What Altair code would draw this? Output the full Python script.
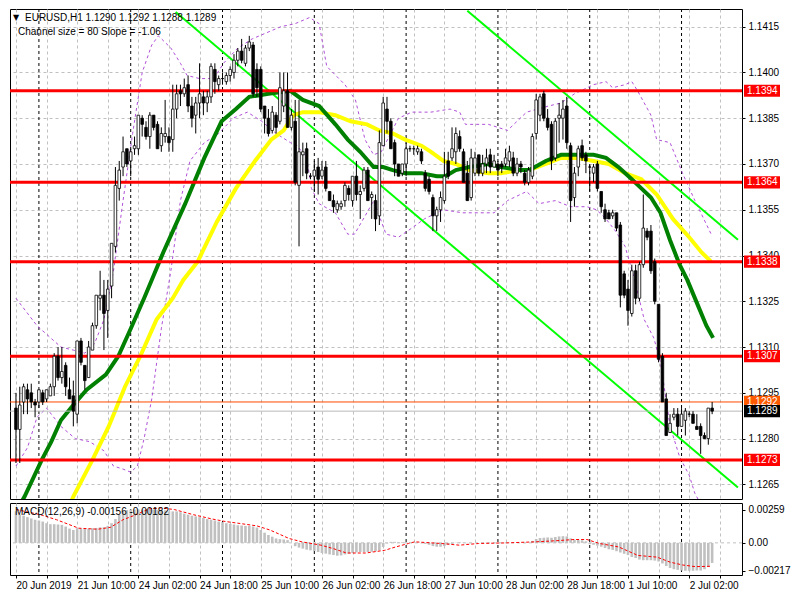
import altair as alt
import pandas as pd

# ---------------- data ----------------
opens = [1.1290,1.1283,1.1292,1.1296,1.1295,1.1292,1.1292,1.1295,1.1293,1.1294,
         1.1297,1.1307,1.1300,1.1304,1.1296,1.1294,1.1288,1.1312,1.1304,1.1300,
         1.1309,1.1317,1.1326,1.1327,1.1322,1.1330,1.1343,1.1362,1.1369,1.1375,
         1.1371,1.1375,1.1375,1.1385,1.1382,1.1379,1.1386,1.1383,1.1376,1.1379,
         1.1379,1.1378,1.1388,1.1394,1.1393,1.1396,1.1389,1.1386,1.1390,1.1392,
         1.1390,1.1392,1.1401,1.1396,1.1398,1.1397,1.1399,1.1400,1.1404,1.1407,
         1.1403,1.1408,1.1409,1.1401,1.1401,1.1389,1.1385,1.1381,1.1386,1.1384,
         1.1389,1.1394,1.1382,1.1384,1.1363,1.1373,1.1375,1.1366,1.1366,1.1369,
         1.1366,1.1369,1.1361,1.1358,1.1355,1.1356,1.1358,1.1362,1.1358,1.1366,
         1.1360,1.1362,1.1368,1.1359,1.1358,1.1353,1.1376,1.1388,1.1384,1.1377,
         1.1370,1.1367,1.1370,1.1375,1.1375,1.1374,1.1374,1.1367,1.1365,1.1359,
         1.1353,1.1355,1.1358,1.1371,1.1372,1.1374,1.1379,1.1374,1.1367,1.1359,
         1.1367,1.1373,1.1367,1.1370,1.1373,1.1369,1.1370,1.1370,1.1370,1.1371,
         1.1372,1.1367,1.1370,1.1367,1.1364,1.1366,1.1380,1.1386,1.1393,1.1385,
         1.1383,1.1372,1.1385,1.1385,1.1389,1.1376,1.1359,1.1369,1.1376,1.1373,
         1.1369,1.1367,1.1370,1.1361,1.1355,1.1354,1.1353,1.1354,1.1350,1.1334,
         1.1329,1.1321,1.1335,1.1326,1.1337,1.1348,1.1348,1.1338,1.1324,1.1307,
         1.1293,1.1282,1.1287,1.1288,1.1284,1.1286,1.1288,1.1288,1.1284,1.1284,
         1.1281,1.1280,1.1290]
highs = [1.1295,1.1297,1.1298,1.1298,1.1298,1.1293,1.1296,1.1296,1.1296,1.1298,
         1.1308,1.1310,1.1310,1.1305,1.1300,1.1299,1.1312,1.1313,1.1304,1.1312,
         1.1318,1.1327,1.1335,1.1332,1.1332,1.1344,1.1369,1.1371,1.1379,1.1375,
         1.1375,1.1379,1.1386,1.1386,1.1384,1.1387,1.1386,1.1384,1.1382,1.1391,
         1.1382,1.1396,1.1396,1.1396,1.1398,1.1399,1.1392,1.1392,1.1403,1.1394,
         1.1394,1.1403,1.1403,1.1399,1.1400,1.1400,1.1402,1.1406,1.1408,1.1411,
         1.1409,1.1412,1.1410,1.1403,1.1402,1.1389,1.1388,1.1389,1.1387,1.1400,
         1.1400,1.1400,1.1388,1.1391,1.1391,1.1377,1.1377,1.1367,1.1371,1.1372,
         1.1371,1.1371,1.1361,1.1360,1.1358,1.1358,1.1364,1.1363,1.1366,1.1371,
         1.1363,1.1369,1.1369,1.1361,1.1360,1.1381,1.1392,1.1392,1.1385,1.1378,
         1.1370,1.1370,1.1377,1.1376,1.1376,1.1376,1.1375,1.1368,1.1366,1.1360,
         1.1356,1.1361,1.1374,1.1374,1.1382,1.1382,1.1381,1.1375,1.1371,1.1375,
         1.1374,1.1373,1.1373,1.1375,1.1375,1.1373,1.1371,1.1371,1.1375,1.1376,
         1.1374,1.1372,1.1371,1.1368,1.1369,1.1380,1.1393,1.1393,1.1394,1.1388,
         1.1384,1.1385,1.1390,1.1391,1.1392,1.1377,1.1369,1.1376,1.1378,1.1374,
         1.1370,1.1370,1.1371,1.1361,1.1357,1.1355,1.1355,1.1354,1.1351,1.1335,
         1.1332,1.1337,1.1337,1.1338,1.1360,1.1349,1.1350,1.1339,1.1324,1.1308,
         1.1295,1.1288,1.1290,1.1290,1.1290,1.1290,1.1289,1.1289,1.1288,1.1285,
         1.1282,1.1290,1.1292]
lows = [1.1272,1.1272,1.1288,1.1288,1.1290,1.1287,1.1290,1.1291,1.1292,1.1294,
        1.1294,1.1299,1.1298,1.1294,1.1293,1.1284,1.1285,1.1304,1.1296,1.1300,
        1.1309,1.1316,1.1322,1.1309,1.1313,1.1326,1.1341,1.1358,1.1366,1.1369,
        1.1366,1.1373,1.1373,1.1379,1.1378,1.1375,1.1381,1.1375,1.1374,1.1377,
        1.1374,1.1374,1.1385,1.1389,1.1392,1.1387,1.1382,1.1380,1.1385,1.1386,
        1.1387,1.1390,1.1393,1.1394,1.1396,1.1396,1.1397,1.1398,1.1402,1.1403,
        1.1402,1.1407,1.1392,1.1392,1.1387,1.1380,1.1379,1.1380,1.1380,1.1383,
        1.1387,1.1382,1.1381,1.1363,1.1343,1.1366,1.1365,1.1365,1.1361,1.1360,
        1.1365,1.1361,1.1358,1.1354,1.1354,1.1355,1.1356,1.1358,1.1356,1.1358,
        1.1352,1.1361,1.1358,1.1352,1.1348,1.1350,1.1376,1.1380,1.1375,1.1366,
        1.1366,1.1366,1.1366,1.1374,1.1373,1.1373,1.1370,1.1361,1.1360,1.1348,
        1.1348,1.1351,1.1357,1.1365,1.1371,1.1370,1.1374,1.1364,1.1358,1.1358,
        1.1366,1.1366,1.1366,1.1367,1.1367,1.1369,1.1366,1.1367,1.1369,1.1369,
        1.1366,1.1366,1.1367,1.1363,1.1363,1.1365,1.1378,1.1384,1.1384,1.1381,
        1.1368,1.1371,1.1377,1.1378,1.1375,1.1351,1.1356,1.1366,1.1371,1.1367,
        1.1361,1.1364,1.1361,1.1354,1.1351,1.1352,1.1352,1.1348,1.1323,1.1326,
        1.1317,1.1320,1.1324,1.1325,1.1336,1.1345,1.1334,1.1324,1.1305,1.1292,
        1.1281,1.1282,1.1286,1.1281,1.1284,1.1281,1.1287,1.1285,1.1283,1.1275,
        1.1280,1.1278,1.1288]
closes = [1.1283,1.1291,1.1297,1.1293,1.1292,1.1291,1.1296,1.1292,1.1296,1.1297,
          1.1307,1.1300,1.1302,1.1297,1.1293,1.1289,1.1312,1.1305,1.1299,1.1310,
          1.1317,1.1327,1.1327,1.1321,1.1329,1.1344,1.1363,1.1368,1.1374,1.1370,
          1.1374,1.1376,1.1386,1.1383,1.1379,1.1386,1.1382,1.1375,1.1380,1.1380,
          1.1377,1.1388,1.1393,1.1393,1.1395,1.1389,1.1385,1.1390,1.1393,1.1390,
          1.1392,1.1402,1.1397,1.1398,1.1398,1.1399,1.1401,1.1404,1.1407,1.1404,
          1.1408,1.1410,1.1393,1.1395,1.1388,1.1385,1.1380,1.1387,1.1382,1.1395,
          1.1394,1.1382,1.1386,1.1364,1.1374,1.1374,1.1367,1.1366,1.1368,1.1365,
          1.1368,1.1362,1.1358,1.1356,1.1357,1.1357,1.1363,1.1360,1.1366,1.1360,
          1.1361,1.1368,1.1358,1.1360,1.1352,1.1377,1.1390,1.1384,1.1375,1.1370,
          1.1366,1.1370,1.1375,1.1375,1.1375,1.1375,1.1371,1.1362,1.1361,1.1353,
          1.1355,1.1359,1.1366,1.1366,1.1375,1.1380,1.1375,1.1364,1.1358,1.1372,
          1.1372,1.1367,1.1370,1.1372,1.1369,1.1371,1.1368,1.1369,1.1372,1.1374,
          1.1367,1.1370,1.1369,1.1364,1.1368,1.1379,1.1391,1.1392,1.1385,1.1382,
          1.1371,1.1384,1.1386,1.1388,1.1377,1.1358,1.1367,1.1375,1.1372,1.1371,
          1.1369,1.1369,1.1362,1.1356,1.1352,1.1352,1.1354,1.1349,1.1327,1.1327,
          1.1322,1.1335,1.1326,1.1337,1.1349,1.1346,1.1335,1.1325,1.1306,1.1292,
          1.1281,1.1285,1.1288,1.1284,1.1288,1.1289,1.1288,1.1285,1.1283,1.1281,
          1.1280,1.1290,1.1289]

# MACD histogram (units of 1e-5)
macd_main = [245,219,211,200,190,180,174,166,153,145,
             145,143,140,127,111,100,114,111,108,111,
             114,116,121,121,132,153,185,219,245,256,
             259,259,259,259,259,259,259,257,255,253,
             245,245,245,238,227,219,211,206,200,193,
             185,180,174,166,161,153,148,143,137,135,
             132,132,127,119,100,79,61,48,34,29,
             26,21,0,-26,-37,-45,-53,-58,-63,-71,
             -79,-84,-90,-95,-100,-98,-90,-84,-79,-74,
             -71,-71,-71,-69,-66,-58,-32,-5,8,8,
             5,5,5,3,2,0,-3,-8,-15,-25,
             -30,-30,-25,-15,-8,2,5,2,-3,-2,
             0,0,2,2,0,0,-2,-2,0,0,
             0,0,0,-2,0,15,30,38,40,42,
             40,45,50,52,50,35,25,22,20,12,
             -10,-15,-22,-30,-40,-50,-55,-65,-75,-85,
             -95,-110,-118,-130,-135,-135,-135,-138,-145,-160,
             -180,-195,-205,-210,-215,-217,-217,-217,-215,-215,
             -205,-185,-156]
signal_bar = [0.1,6.4,10.6,16.4,21.4,24.75,28,31.4,34.75,38,41.4,46.4,51.4,54.75,58,63,
              66.4,71.4,74.75,79.75,83,86.4,91.4,96.4,99.25,102.6,104.25,111.25,115.9,
              120.9,128.4,135.9,140.9,145.9,149.25,152.6,157.6,162.6,167.6,171,174.25,
              177.6,181.75]
signal_val = [259,219,180,114,106,121,180,219,264,272,259,219,185,166,153,132,
              100,34,8,-18,-45,-79,-79,-58,-32,-5,8,-5,-18,
              -5,0,8,16,26,26,-5,-32,-98,-111,-150,-172,
              -185,-182]

# Moving averages (bar index, price)
ma_green_bar = [0,2.25,6.75,9.25,11.75,15,18.5,23.5,26.75,30,33.5,35.5,38.5,44.25,49.25,
                53.75,57.5,61,66,71.75,75,79.25,83.5,86.75,90,93.5,96,98.5,101.75,106,
                110,112.25,115,118.5,123.5,126.75,131.75,134.25,138.5,142.5,146.75,151,
                154.25,157.5,161,163.5,166,168.5,171,173.5,175.5,178.5,180.5,182.25]
ma_green = [1.1256,1.1261,1.1273,1.1279,1.1286,1.1291,1.1296,1.1301,1.1307,1.1316,1.1326,
            1.1332,1.1341,1.1357,1.1372,1.1384,1.1388,1.1392,1.1393,1.1394,1.1391,1.1389,
            1.1383,1.1378,1.1374,1.1369,1.1369,1.1368,1.1367,1.1367,1.1366,1.1366,1.1368,
            1.1369,1.1370,1.1369,1.1368,1.1368,1.1371,1.1373,1.1373,1.1373,1.1372,1.1369,
            1.1365,1.1362,1.1359,1.1354,1.1345,1.1337,1.1332,1.1323,1.1317,1.1313]
ma_yellow_bar = [13,15,20,24.25,28.5,32.5,36.75,41,43.75,47.5,52.5,57.5,62.5,66.75,70,
                 72.5,75,79.25,83.5,87.5,91.75,95,98.5,101.75,106,108.5,111.75,115,118.5,
                 123.5,126.75,131.75,134.25,138.5,142.5,146.75,151,155,159.25,163.5,
                 167.5,171.75,176,179.25,181.75]
ma_yellow = [1.1255,1.1261,1.1273,1.1284,1.1297,1.1307,1.1319,1.1326,1.1332,1.1338,1.1351,
             1.1362,1.1371,1.1378,1.1381,1.1386,1.1387,1.1387,1.1386,1.1384,1.1383,1.1381,
             1.1380,1.1378,1.1376,1.1374,1.1371,1.1370,1.1368,1.1367,1.1367,1.1368,1.1368,
             1.1370,1.1372,1.1372,1.1371,1.1370,1.1367,1.1365,1.1360,1.1352,1.1346,1.1341,
             1.1338]

# Envelope bands (bar index, price)
band_up_bar = [0,5.5,11.75,15,18,20.5,23,25.5,28,30.5,33,35.5,37.25,40.5,43,44.75,48,
               51.75,54.25,58,61.75,65.5,69.25,73,76.75,79.25,81.25,86,88.75,91.25,93.5,
               95.5,100,103.5,108.5,113.5,116,117.5,123.5,128.5,133.5,139.25,142.5,146,
               151,154.25,156,159.25,161,162.5,164.25,166,167.5,171,174.25,177.5,181.75]
band_up = [1.1326,1.1317,1.1310,1.1309,1.1308,1.1311,1.1319,1.1335,1.1358,1.1380,1.1400,
           1.1409,1.1412,1.1408,1.1403,1.1399,1.1398,1.1398,1.1403,1.1408,1.1411,1.1413,
           1.1415,1.1416,1.1418,1.1416,1.1402,1.1396,1.1391,1.1378,1.1373,1.1374,1.1385,
           1.1387,1.1387,1.1388,1.1387,1.1383,1.1383,1.1381,1.1387,1.1389,1.1390,1.1393,
           1.1396,1.1397,1.1395,1.1396,1.1397,1.1394,1.1390,1.1386,1.1378,1.1377,1.1367,
           1.1358,1.1347]
band_lo_bar = [0,3,5.5,8,11.75,15.5,19.25,23,25.5,28,30,31.75,33.5,35.5,38,40.5,43,45.5,
               49.25,53,56.75,60.5,64.25,68,71.75,73.5,76,77.25,79.25,83.5,86.75,88.5,
               91.75,93.5,96.75,100,103.5,106.75,111.75,116.75,125,128.5,133.5,136.75,
               141,145,149.25,151.75,154.25,156.75,159.25,161.75,164.25,166.75,168.5,171,
               173.5,176,177.5,179.25]
band_lo = [1.1271,1.1277,1.1287,1.1290,1.1284,1.1280,1.1279,1.1276,1.1271,1.1270,1.1269,
           1.1271,1.1280,1.1293,1.1316,1.1335,1.1358,1.1371,1.1377,1.1380,1.1385,1.1387,
           1.1384,1.1380,1.1377,1.1376,1.1372,1.1362,1.1357,1.1354,1.1347,1.1347,1.1354,
           1.1358,1.1347,1.1346,1.1349,1.1352,1.1355,1.1354,1.1354,1.1358,1.1361,1.1357,
           1.1358,1.1356,1.1356,1.1355,1.1352,1.1348,1.1343,1.1332,1.1319,1.1313,1.1305,
           1.1284,1.1274,1.1268,1.1262,1.1258]

# Regression channel lines (bar index, price)
chan_lo_bar = [41.75, 188.75]
chan_lo = [1.14198, 1.12640]
chan_up_bar = [118, 188.75]
chan_up = [1.14202, 1.13452]

levels = [1.1394, 1.1364, 1.1338, 1.1307, 1.1273]
ask_price = 1.1292
bid_price = 1.1289
price_ticks = [1.1265, 1.1280, 1.1295, 1.1310, 1.1325, 1.1340, 1.1355, 1.1370, 1.1385, 1.1400, 1.1415]
day_breaks = [6, 30, 54, 78, 102, 126, 150, 174]
time_labels = ["20 Jun 2019", "", "21 Jun 10:00", "", "24 Jun 02:00", "", "24 Jun 18:00", "",
               "25 Jun 10:00", "", "26 Jun 02:00", "", "26 Jun 18:00", "", "27 Jun 10:00", "",
               "28 Jun 02:00", "", "28 Jun 18:00", "", "1 Jul 10:00", "", "2 Jul 02:00", "", ""]
macd_ticks = [0.00259, 0.0, -0.00217]

title1 = "EURUSD,H1  1.1290 1.1292 1.1288 1.1289"
title2 = "Channel size = 80 Slope = -1.06"
title3 = "MACD(12,26,9) -0.00156 -0.00182"

# ---------------- chart ----------------
FONT = "Liberation Sans, Arial"
FS = 10
W, H1, H2 = 732, 490, 72
xs = alt.Scale(domain=[-0.25, 188.5], nice=False, zero=False)
ys = alt.Scale(domain=[1.12602, 1.14208], nice=False, zero=False)
ms = alt.Scale(domain=[-0.00250, 0.00310], nice=False, zero=False)
grid_vals = list(range(0, 189, 8))

x_main_axis = alt.Axis(values=grid_vals, labels=False, ticks=False, domain=False, grid=True,
                       gridColor="#c0c0c0", gridDash=[3, 3], title=None)
y_main_axis = alt.Axis(orient="right", values=price_ticks, format=".4f", grid=True,
                       gridColor="#c0c0c0", gridDash=[3, 3], domain=False, tickSize=3,
                       tickColor="black", labelFont=FONT, labelFontSize=FS, labelColor="black",
                       labelPadding=3, title=None)


def X(f="i"):
    return alt.X(f"{f}:Q", scale=xs, axis=x_main_axis)


def Y(f="p"):
    return alt.Y(f"{f}:Q", scale=ys, axis=y_main_axis)


cdf = pd.DataFrame({"i": list(range(len(opens))), "o": opens, "h": highs, "l": lows, "c": closes})
cdf["up"] = cdf["c"] >= cdf["o"]

wicks = alt.Chart(cdf).mark_rule(color="black", strokeWidth=1).encode(x=X(), y=Y("l"), y2="h:Q")
bodies = alt.Chart(cdf).mark_bar(size=2.6, stroke="black", strokeWidth=0.8).encode(
    x=X(), y=Y("o"), y2="c:Q",
    fill=alt.condition("datum.up", alt.value("white"), alt.value("black")))

day_df = pd.DataFrame({"i": day_breaks})
day_lines = alt.Chart(day_df).mark_rule(color="black", strokeDash=[3, 3], strokeWidth=1).encode(x=X())

lvl_df = pd.DataFrame({"p": levels})
lvl_lines = alt.Chart(lvl_df).mark_rule(color="#ff0000", strokeWidth=3).encode(y=Y())

ab_df = pd.DataFrame({"p": [ask_price, bid_price], "col": ["#ff4a00", "#b8b8b8"]})
ab_lines = alt.Chart(ab_df).mark_rule(strokeWidth=1).encode(y=Y(), color=alt.Color("col:N", scale=None))


def line_layer(bars, vals, color, width, dash=None):
    df = pd.DataFrame({"i": bars, "p": vals})
    kw = dict(color=color, strokeWidth=width, clip=True)
    if dash:
        kw["strokeDash"] = dash
    return alt.Chart(df).mark_line(**kw).encode(x=X(), y=Y())


band_u = line_layer(band_up_bar, band_up, "#b04fd8", 1, [3, 3])
band_l = line_layer(band_lo_bar, band_lo, "#b04fd8", 1, [3, 3])
ma_y = line_layer(ma_yellow_bar, ma_yellow, "#ffff00", 4)
ma_g = line_layer(ma_green_bar, ma_green, "#008000", 4)
ch_l = line_layer(chan_lo_bar, chan_lo, "#00ff00", 2)
ch_u = line_layer(chan_up_bar, chan_up, "#00ff00", 2)

lab_df = pd.DataFrame({
    "p": levels + [ask_price, bid_price],
    "lab": [f"{v:.4f}" for v in levels + [ask_price, bid_price]],
    "bg": ["#ff0000"] * 5 + ["#ff5a00", "#000000"],
})
lab_box = alt.Chart(lab_df).transform_calculate(
    top="datum.p + 0.00020", bot="datum.p - 0.00020"
).mark_rect(clip=False).encode(
    x=alt.value(W + 2), x2=alt.value(W + 38), y=Y("top"), y2="bot:Q",
    fill=alt.Color("bg:N", scale=None))
lab_txt = alt.Chart(lab_df).mark_text(align="left", baseline="middle", color="white",
                                      font=FONT, fontSize=FS, clip=False).encode(
    x=alt.value(W + 5), y=Y(), text="lab:N")

t1 = alt.Chart(pd.DataFrame({"t": [title1]})).mark_text(
    align="left", baseline="middle", font=FONT, fontSize=FS, color="black").encode(
    x=alt.value(15), y=alt.value(9), text="t:N")
tri = alt.Chart(pd.DataFrame({"t": ["▼"]})).mark_text(
    align="left", baseline="middle", font="DejaVu Sans", fontSize=8, color="black").encode(
    x=alt.value(3), y=alt.value(9), text="t:N")
t2 = alt.Chart(pd.DataFrame({"t": [title2]})).mark_text(
    align="left", baseline="middle", font=FONT, fontSize=FS, color="black").encode(
    x=alt.value(8), y=alt.value(23), text="t:N")

main = alt.layer(
    day_lines, band_u, band_l, ch_l, ch_u, ma_y, ma_g, lvl_lines, ab_lines,
    wicks, bodies, lab_box, lab_txt, tri, t1, t2
).properties(width=W, height=H1)

# ---------------- MACD panel ----------------
label_expr = "[" + ",".join("'" + s + "'" for s in time_labels) + "][round(datum.value / 8)]"
x_macd_axis = alt.Axis(values=grid_vals, labelExpr=label_expr, grid=True, gridColor="#c0c0c0",
                       gridDash=[3, 3], domain=False, tickSize=3, tickColor="black",
                       labelAlign="left", labelFont=FONT, labelFontSize=FS, labelColor="black",
                       labelPadding=2, labelOverlap=False, labelFlush=False, title=None)
y_macd_axis = alt.Axis(orient="right", values=macd_ticks,
                       labelExpr="datum.value == 0 ? '0.00' : format(datum.value, '.5f')",
                       grid=False, domain=False, tickSize=3, tickColor="black", labelFont=FONT,
                       labelFontSize=FS, labelColor="black", labelPadding=3, title=None)

mdf = pd.DataFrame({"i": list(range(len(macd_main))), "v": [m / 1e5 for m in macd_main]})
sdf = pd.DataFrame({"i": signal_bar, "v": [s / 1e5 for s in signal_val]})
hist = alt.Chart(mdf).mark_bar(size=2.6, color="#c0c0c0").encode(
    x=alt.X("i:Q", scale=xs, axis=x_macd_axis),
    y=alt.Y("v:Q", scale=ms, axis=y_macd_axis), y2=alt.datum(0))
sig = alt.Chart(sdf).mark_line(color="#ff0000", strokeDash=[3, 2], strokeWidth=1, clip=True).encode(
    x=alt.X("i:Q", scale=xs, axis=x_macd_axis), y=alt.Y("v:Q", scale=ms, axis=y_macd_axis))
zero = alt.Chart(pd.DataFrame({"v": [0.0]})).mark_rule(color="#c0c0c0", strokeDash=[3, 3]).encode(
    y=alt.Y("v:Q", scale=ms, axis=y_macd_axis))
mday = alt.Chart(day_df).mark_rule(color="black", strokeDash=[3, 3], strokeWidth=1).encode(
    x=alt.X("i:Q", scale=xs, axis=x_macd_axis))
t3 = alt.Chart(pd.DataFrame({"t": [title3]})).mark_text(
    align="left", baseline="middle", font=FONT, fontSize=FS, color="black").encode(
    x=alt.value(5), y=alt.value(9), text="t:N")

macd = alt.layer(zero, mday, hist, sig, t3).properties(width=W, height=H2)

chart = alt.vconcat(main, macd, spacing=2).properties(padding=0).configure_view(
    stroke="black", strokeWidth=1).configure_axis(labelFont=FONT)

chart.save("out.html", embed_options={"renderer": "svg", "actions": False})
